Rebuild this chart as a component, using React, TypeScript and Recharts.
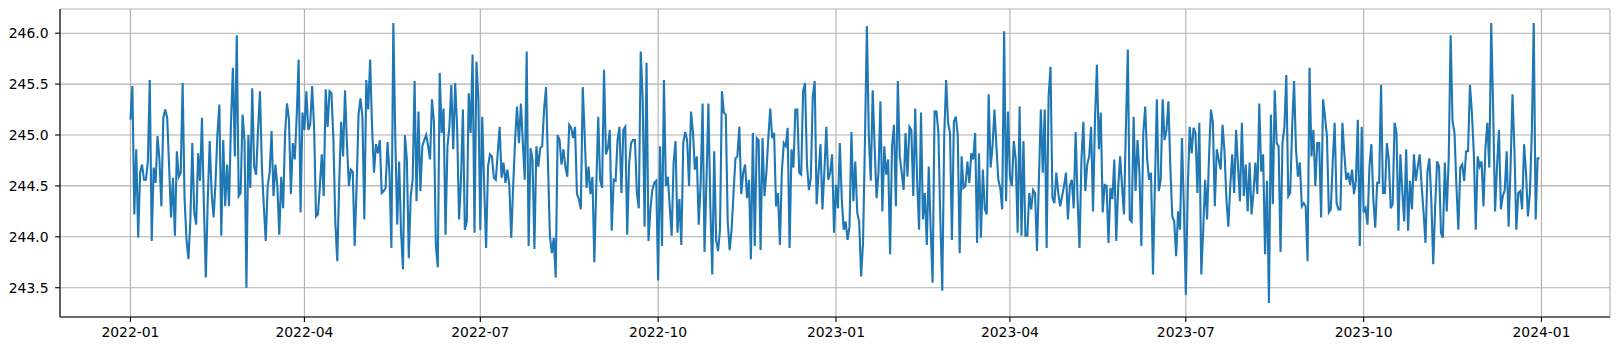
import React from "react";
import { LineChart, Line, XAxis, YAxis, CartesianGrid } from "recharts";

// daily readings, 2022-01-01 .. 2023-12-31 in chunks
const jan22ToMar22 = [
  245.15, 245.48, 244.22, 244.86, 243.99, 244.63, 244.71, 244.56, 244.56, 244.74,
  245.54, 243.96, 244.68, 244.53, 244.99, 244.76, 244.3, 245.17, 245.25, 245.17,
  244.69, 244.19, 244.58, 244.01, 244.84, 244.59, 244.63, 245.51, 244.37, 243.97,
  243.78, 244.17, 244.92, 244.24, 244.12, 244.82, 244.55, 245.17, 244.3, 243.6,
  244.37, 244.94, 244.43, 244.19, 244.53, 245.02, 245.3, 244.01, 244.95, 244.3,
  244.71, 244.3, 245.12, 245.66, 244.79, 245.98, 244.4, 244.43, 245.2, 244.95,
  243.5, 245.0, 244.48, 245.46, 244.69, 244.61, 245.05, 245.43, 244.69, 244.3,
  243.96, 244.5, 244.63, 245.04, 244.4,
];
const mar22ToMay22 = [
  244.71, 244.5, 244.02, 244.59, 244.28, 245.02, 245.31, 245.15, 244.42, 244.92,
  244.76, 245.18, 245.74, 244.24, 245.22, 245.05, 245.43, 245.05, 245.1, 245.48,
  245.08, 244.2, 244.22, 244.5, 244.81, 244.4, 245.45, 245.08, 245.43, 245.41,
  244.95, 244.14, 243.76, 244.53, 245.13, 244.79, 245.44, 244.92, 244.5, 244.66,
  244.64, 243.91, 244.5, 245.2, 245.36, 245.18, 244.17, 245.54, 245.25, 245.74,
  245.08, 244.63, 244.91, 244.82, 244.95, 244.43, 244.45, 244.48, 244.93, 244.63,
  243.89, 246.1, 244.99, 244.12, 244.74, 244.04, 243.68, 245.0, 244.76, 243.79,
  244.4, 244.56, 245.53, 244.35, 245.23, 244.45,
];
const jun22ToAug22 = [
  244.89, 244.95, 245.0, 244.89, 244.76, 245.35, 245.13, 243.92, 243.7, 245.61,
  245.02, 245.26, 244.02, 244.89, 245.08, 245.49, 244.86, 245.51, 245.08, 244.17,
  244.56, 245.25, 244.07, 244.15, 245.41, 245.02, 245.79, 244.04, 245.72, 245.35,
  244.07, 245.18, 244.5, 243.89, 244.69, 244.81, 244.79, 244.58, 244.56, 244.82,
  245.08, 244.58, 244.73, 244.53, 244.66, 244.51, 243.99, 244.5, 244.95, 245.28,
  244.92, 245.31, 244.92, 244.56, 245.82, 243.91, 244.87, 244.76, 243.88, 244.89,
  244.69, 244.87, 244.89, 245.25, 245.47, 244.73, 244.01, 243.84, 243.99, 243.6,
  245.0, 244.95, 244.71, 244.86,
];
const aug22ToOct22 = [
  244.69, 244.59, 245.1, 245.07, 244.97, 245.08, 244.42, 244.37, 244.27, 245.47,
  244.99, 244.48, 244.69, 244.42, 244.59, 243.75, 244.5, 245.18, 244.56, 244.48,
  245.64, 244.81, 244.87, 245.05, 244.06, 244.56, 244.55, 244.95, 245.08, 244.43,
  245.05, 245.08, 244.02, 244.72, 244.92, 244.95, 244.95, 244.43, 244.28, 245.82,
  245.35, 244.1, 245.71, 243.96, 244.27, 244.46, 244.53, 244.55, 243.57, 244.89,
  243.91, 245.54, 244.5, 244.59, 244.3, 244.01, 244.73, 244.94, 244.04, 244.37,
  243.92, 244.92, 245.03, 244.95, 244.5, 245.23, 245.03, 244.66, 244.79, 244.12,
  244.53, 245.31, 243.85, 244.55, 245.31,
];
const oct22ToJan23 = [
  244.3, 243.63, 244.84, 243.97, 243.86, 244.07, 245.43, 245.22, 245.2, 244.15,
  243.87, 244.07, 244.43, 244.77, 244.79, 245.08, 244.42, 244.63, 244.71, 244.38,
  244.56, 243.78, 245.02, 243.91, 244.97, 244.95, 243.87, 244.97, 244.4, 244.63,
  244.97, 245.26, 244.97, 245.02, 244.3, 244.43, 243.92, 244.64, 244.92, 244.89,
  245.07, 243.89, 244.86, 244.68, 245.25, 245.25, 244.63, 244.61, 245.43, 245.51,
  244.71, 244.46, 244.58, 245.38, 245.53, 244.32, 244.63, 244.91, 244.27, 244.64,
  245.08, 244.56, 244.63, 244.81, 244.04, 244.51, 244.28, 244.92, 244.37, 244.07,
  244.15, 243.97, 244.1, 245.03, 244.35,
];
const jan23ToMar23 = [
  244.74, 244.24, 244.15, 243.61, 243.94, 244.95, 246.07, 244.99, 244.55, 245.44,
  244.89, 244.38, 244.63, 245.33, 244.25, 244.89, 244.61, 244.76, 243.83, 244.89,
  245.1, 244.3, 245.53, 244.79, 244.63, 244.46, 245.02, 244.59, 245.08, 245.05,
  244.4, 245.26, 244.55, 244.07, 245.22, 244.17, 244.43, 243.92, 244.69, 244.07,
  243.55, 245.23, 245.23, 245.02, 244.17, 243.47, 244.99, 245.54, 245.12, 245.02,
  243.97, 245.13, 245.18, 245.0, 243.84, 244.79, 244.48, 244.5, 244.74, 244.53,
  244.82, 244.76, 245.02, 243.94, 244.82, 243.99, 244.66, 244.27, 244.22, 245.4,
  244.68, 244.89, 245.25, 244.89, 244.56,
];
const mar23ToJun23 = [
  244.48, 244.27, 246.02, 244.35, 245.23, 244.59, 244.5, 244.94, 244.76, 244.04,
  245.28, 244.01, 244.94, 244.01, 244.01, 244.43, 244.27, 244.46, 244.43, 243.86,
  244.56, 245.25, 244.63, 245.25, 243.89, 245.38, 245.67, 244.38, 244.33, 244.63,
  244.43, 244.3, 244.4, 244.5, 244.63, 244.17, 244.5, 244.56, 244.28, 245.03,
  244.37, 243.89, 244.76, 245.13, 244.45, 244.71, 244.79, 245.08, 244.25, 245.15,
  245.69, 244.86, 245.22, 244.24, 244.51, 244.5, 243.94, 244.48, 244.37, 244.76,
  243.96, 244.48, 244.79, 244.5, 244.22, 245.08, 245.84, 244.17, 244.15, 245.18,
  244.45, 244.95, 244.63, 243.91, 245.02,
];
const jun23ToAug23 = [
  245.28, 244.76, 244.56, 244.63, 243.63, 244.5, 245.35, 244.45, 244.56, 245.35,
  244.95, 245.05, 245.33, 244.68, 244.2, 244.15, 243.81, 244.25, 244.07, 244.97,
  244.28, 243.43, 244.46, 245.08, 244.82, 245.07, 245.02, 244.43, 245.12, 243.63,
  244.07, 244.56, 244.17, 244.79, 245.25, 245.12, 244.3, 244.86, 244.76, 244.66,
  245.1, 244.84, 244.37, 244.1, 244.5, 244.81, 244.43, 245.05, 244.69, 244.35,
  245.12, 244.4, 244.71, 244.25, 244.73, 244.22, 244.43, 244.73, 244.42, 245.31,
  244.64, 244.81, 243.83, 244.55, 243.35, 245.2, 244.32, 245.44, 244.92, 244.89,
  243.85, 244.92, 245.08, 245.59, 244.4,
];
const aug23ToNov23 = [
  244.43, 245.07, 245.53, 244.86, 244.59, 244.73, 244.3, 244.33, 244.3, 243.76,
  245.66, 244.79, 245.05, 244.5, 244.92, 244.92, 244.19, 245.35, 245.18, 244.99,
  244.24, 244.27, 244.73, 245.12, 244.33, 244.27, 244.27, 245.12, 244.82, 244.56,
  244.63, 244.51, 244.66, 244.42, 244.56, 245.15, 243.91, 245.08, 244.24, 244.28,
  244.12, 244.69, 244.91, 244.37, 244.09, 244.53, 244.53, 245.49, 244.43, 244.43,
  244.92, 244.76, 244.28, 244.32, 245.12, 245.02, 244.06, 244.81, 244.45, 244.15,
  244.86, 244.06, 244.55, 244.27, 244.81, 244.55, 244.69, 244.81, 244.5, 244.24,
  243.94, 244.64, 244.77, 244.37, 243.73,
];
const nov23ToDec23 = [
  244.3, 244.74, 244.69, 244.04, 243.99, 244.73, 244.25, 244.76, 245.98, 245.13,
  245.02, 244.5, 244.07, 244.68, 244.71, 244.55, 244.84, 244.84, 245.49, 245.22,
  244.82, 244.07, 244.79, 244.69, 244.74, 244.3, 244.87, 245.12, 244.68, 246.1,
  245.25, 244.25, 244.69, 245.05, 244.27, 244.4, 244.46, 244.84, 244.1, 244.68,
  245.4, 244.86, 244.07, 244.43, 244.45, 244.27, 244.91, 244.63, 244.2, 244.43,
  245.02, 246.1, 244.17, 244.77, 244.77,
];

// x ticks: days since 2022-01-01 for each quarter start
const tickDays = [0, 90, 181, 273, 365, 455, 546, 638, 730];
const tickLabels = [
  "2022-01", "2022-04", "2022-07", "2022-10",
  "2023-01", "2023-04", "2023-07", "2023-10", "2024-01",
];
const yTicks = [243.5, 244.0, 244.5, 245.0, 245.5, 246.0];

const values = [
  ...jan22ToMar22, ...mar22ToMay22, ...jun22ToAug22, ...aug22ToOct22,
  ...oct22ToJan23, ...jan23ToMar23, ...mar23ToJun23, ...jun23ToAug23,
  ...aug23ToNov23, ...nov23ToDec23,
];
const data = values.map((v, i) => ({ day: i, value: v }));

const xDomain = [-36.45, 765.45];
const yDomain = [243.2125, 246.2375];

const tickStyle = { fill: "#000", fontSize: 13.9, fontFamily: "DejaVu Sans" };

export default function App() {
  return (
    <div style={{ width: 1603, height: 335 }}>
      <LineChart
        width={1603}
        height={335}
        data={data}
        margin={{ top: 1, right: 1, left: 0, bottom: 0 }}
      >
        <CartesianGrid stroke="#b0b0b0" strokeWidth={1.1} />
        <XAxis
          dataKey="day"
          type="number"
          domain={xDomain}
          allowDataOverflow
          ticks={tickDays}
          interval={0}
          tickFormatter={(v) => tickLabels[tickDays.indexOf(v)]}
          height={26}
          tick={tickStyle}
          tickSize={4.9}
          tickMargin={5.6}
          stroke="#000"
          strokeWidth={1.1}
        />
        <XAxis
          xAxisId="top"
          orientation="top"
          type="number"
          domain={xDomain}
          allowDataOverflow
          height={0}
          tick={false}
          tickLine={false}
          stroke="#000"
          strokeWidth={1.1}
        />
        <YAxis
          type="number"
          domain={yDomain}
          allowDataOverflow
          ticks={yTicks}
          interval={0}
          tickFormatter={(v) => v.toFixed(1)}
          width={52}
          tick={tickStyle}
          tickSize={4.9}
          tickMargin={6.6}
          stroke="#000"
          strokeWidth={1.1}
        />
        <YAxis
          yAxisId="right"
          orientation="right"
          type="number"
          domain={yDomain}
          allowDataOverflow
          width={0}
          tick={false}
          tickLine={false}
          stroke="#000"
          strokeWidth={1.1}
        />
        <Line
          type="linear"
          dataKey="value"
          stroke="#1f77b4"
          strokeWidth={2.1}
          dot={false}
          isAnimationActive={false}
        />
      </LineChart>
    </div>
  );
}
